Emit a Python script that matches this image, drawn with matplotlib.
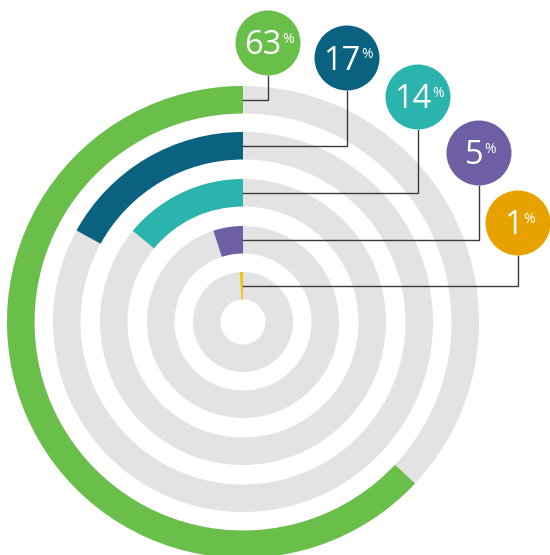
import numpy as np
import matplotlib
matplotlib.use('Agg')
from matplotlib import pyplot as plt
from matplotlib.patches import Wedge, Circle

# shares, outer ring first
values = [63, 17, 14, 5, 1]
labels = ['63', '17', '14', '5', '1']
ring_colors = ['#6abf4b', '#0a6180', '#2bb3ae', '#6e5fa5', '#f5c400']
bubble_colors = ['#6abf4b', '#0a6180', '#2bb3ae', '#6e5fa5', '#e8a200']

# layout, in pixels (y measured up from the bottom of the picture)
W, H = 550, 555
cx, cy = 243, 555 - 322
r_outer = [236, 190, 143, 96, 50]
ring_w = 27.5
bubbles = [(268, 43), (347, 58), (418, 97), (479, 153), (518, 223)]
bub_r = 32.5
track = '#e3e3e3'

fig = plt.figure(figsize=(W / 100, H / 100), dpi=100)
ax = fig.add_axes([0, 0, 1, 1])
ax.set_xlim(0, W)
ax.set_ylim(0, H)
ax.set_aspect('equal')
ax.axis('off')

for i, v in enumerate(values):
	ro = r_outer[i]
	ax.add_patch(Wedge((cx, cy), ro, 0, 360, width=ring_w, color=track, lw=0))
	ax.add_patch(Wedge((cx, cy), ro, 90, 90 + v * 3.6, width=ring_w,
		color=ring_colors[i], lw=0))

texts = []
for i, v in enumerate(values):
	bx, by = bubbles[i]
	by = H - by
	ly = cy + r_outer[i] - ring_w / 2
	ax.plot([cx, bx, bx], [ly, ly, by - bub_r], color='#3a3a3a', lw=1.0,
		solid_joinstyle='miter', zorder=3)
	ax.add_patch(Circle((bx, by), bub_r, color=bubble_colors[i], lw=0, zorder=4))
	t = ax.text(bx - 5, by - 3, labels[i], color='white', fontsize=23.5,
		family='Open Sans', ha='center', va='center', zorder=5)
	texts.append(t)

# put the small % sign just right of each number
fig.canvas.draw()
rend = fig.canvas.get_renderer()
inv = ax.transData.inverted()
for i, t in enumerate(texts):
	bb = t.get_window_extent(rend)
	(x0, y0), (x1, y1) = inv.transform([[bb.x0, bb.y0], [bb.x1, bb.y1]])
	bx, by = bubbles[i]
	by = H - by
	ax.text(x1 + 0.5, by + 11, '%', color='white', fontsize=10,
		family='Open Sans', ha='left', va='top', zorder=5)

fig.savefig('out.png', dpi=100)
